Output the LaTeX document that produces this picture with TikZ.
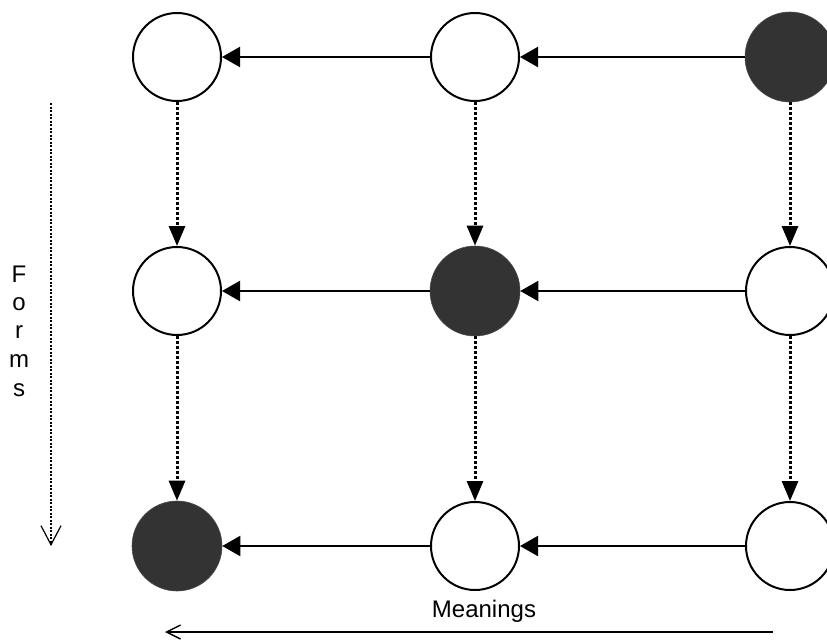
\documentclass[tikz,border=0pt]{standalone}
\usepackage{fontspec}
\setmainfont{Liberation Sans}
\usetikzlibrary{arrows.meta}
\definecolor{darkfill}{HTML}{333333}
\tikzset{
  wnode/.style={circle, draw=black, line width=2pt, fill=white, minimum size=88pt, inner sep=0pt},
  dnode/.style={circle, draw=black!70, line width=0.6pt, fill=darkfill, minimum size=90pt, inner sep=0pt},
  harrow/.style={line width=2pt, -{Triangle[length=18pt,width=20pt]}},
  varrow/.style={line width=3pt, dash pattern=on 3pt off 2pt, -{Triangle[length=20pt,width=16pt]}},
  lbl/.style={font=\fontsize{24pt}{24pt}\selectfont, inner sep=0pt, anchor=base},
}
\begin{document}
\begin{tikzpicture}[x=1pt,y=-1pt]
\useasboundingbox (0,0) rectangle (827,640);
% nodes
\node[wnode] (a11) at (177,57) {};
\node[wnode] (a12) at (475,57) {};
\node[dnode] (a13) at (790,57) {};
\node[wnode] (a21) at (177,291) {};
\node[dnode] (a22) at (475,291) {};
\node[wnode] (a23) at (790,291) {};
\node[dnode] (a31) at (177,546) {};
\node[wnode] (a32) at (475,546) {};
\node[wnode] (a33) at (790,546) {};
% horizontal arrows
\draw[harrow] (a13) -- (a12);
\draw[harrow] (a12) -- (a11);
\draw[harrow] (a23) -- (a22);
\draw[harrow] (a22) -- (a21);
\draw[harrow] (a33) -- (a32);
\draw[harrow] (a32) -- (a31);
% vertical dotted arrows
\draw[varrow] (a11) -- (a21);
\draw[varrow] (a21) -- (a31);
\draw[varrow] (a12) -- (a22);
\draw[varrow] (a22) -- (a32);
\draw[varrow] (a13) -- (a23);
\draw[varrow] (a23) -- (a33);
% Forms axis
\coordinate (fs) at (51,103);
\coordinate (fe) at (51,546);
\draw[line width=1.2pt, dash pattern=on 2pt off 1.5pt, -{Straight Barb[length=19pt,width=20pt]}] (fs) -- (fe);
\node[lbl] (f1) at (19,282) {F};
\node[lbl] (f2) at (19,310) {o};
\node[lbl] (f3) at (19,338) {r};
\node[lbl] (f4) at (19,367) {m};
\node[lbl] (f5) at (19,396) {s};
% Meanings axis
\node[lbl] (mean) at (484,617) {Meanings};
\coordinate (ms) at (773,632);
\coordinate (me) at (165,632);
\draw[line width=1.4pt, -{Straight Barb[length=14pt,width=14pt]}] (ms) -- (me);
\end{tikzpicture}
\end{document}
